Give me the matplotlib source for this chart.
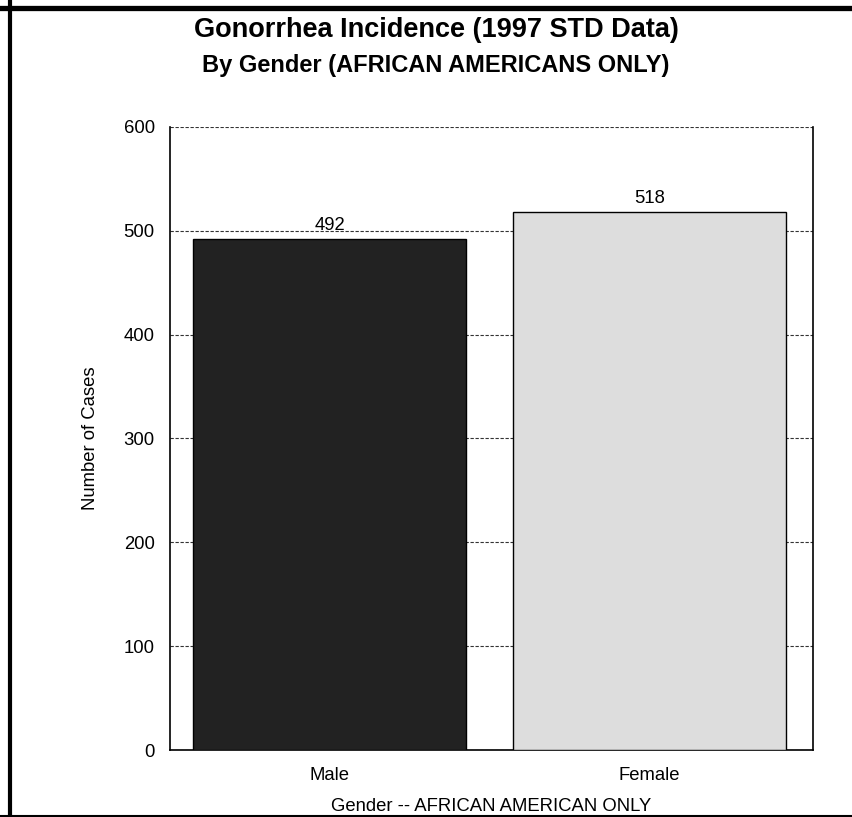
import matplotlib.pyplot as plt
from matplotlib.lines import Line2D

# gonorrhea cases, 1997 STD data, African Americans only
genders = ['Male', 'Female']
cases = [492, 518]
bar_colors = ['#222222', '#dddddd']
yticks = [0, 100, 200, 300, 400, 500, 600]

plt.rcParams['font.family'] = ['Liberation Sans', 'DejaVu Sans']
fs = 13.3

fig = plt.figure(figsize=(8.53, 8.17), dpi=100)
ax = fig.add_axes([0.1993, 0.0820, 0.7538, 0.7626])

x = list(range(len(genders)))
bars = ax.bar(x, cases, width=0.853, color=bar_colors, edgecolor='black',
              linewidth=1.0, zorder=3)
for b, v in zip(bars, cases):
    ax.annotate(str(v), (b.get_x() + b.get_width() / 2, v),
                xytext=(0, 3.5), textcoords='offset points',
                ha='center', va='bottom', fontsize=fs, zorder=4)

ax.set_xlim(-0.498, 1.51)
ax.set_ylim(0, 600)
ax.set_yticks(yticks)
ax.set_xticks(x)
ax.set_xticklabels(genders)
ax.tick_params(length=0, labelsize=fs)
ax.tick_params(axis='y', pad=11)
ax.tick_params(axis='x', pad=12)
ax.yaxis.grid(True, linestyle=(0, (3, 1.5)), color='#333333', linewidth=0.8, zorder=1)
ax.spines['top'].set_visible(False)
for s in ['left', 'right', 'bottom']:
    ax.spines[s].set_linewidth(1.2)

ax.set_ylabel('Number of Cases', fontsize=fs, labelpad=18)
ax.set_xlabel('Gender -- AFRICAN AMERICAN ONLY', fontsize=fs, labelpad=10)

title_x = 436 / 853
fig.text(title_x, 1 - 30 / 817, 'Gonorrhea Incidence (1997 STD Data)', ha='center',
         va='center', fontsize=19.5, fontweight='bold')
fig.text(title_x, 1 - 65.5 / 817, 'By Gender (AFRICAN AMERICANS ONLY)', ha='center',
         va='center', fontsize=17, fontweight='bold')

# page frame: heavy left/top, thin bottom
fig.add_artist(Line2D([10.5 / 853, 10.5 / 853], [0, 1], transform=fig.transFigure,
                      color='black', linewidth=3))
fig.add_artist(Line2D([0, 1], [1 - 7.5 / 817, 1 - 7.5 / 817], transform=fig.transFigure,
                      color='black', linewidth=3.8))
fig.add_artist(Line2D([0, 1], [1.5 / 817, 1.5 / 817], transform=fig.transFigure,
                      color='black', linewidth=1.5))

fig.savefig('out.png', dpi=100)
